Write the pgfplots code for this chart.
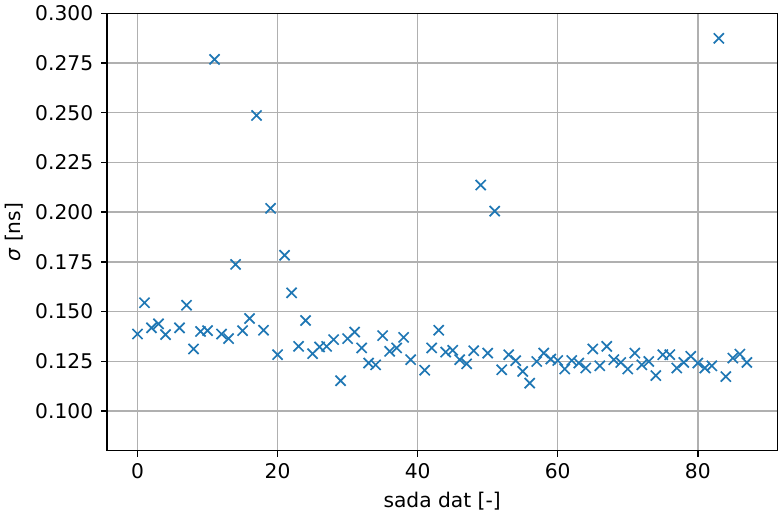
\documentclass[border=0pt]{standalone}
\usepackage{pgfplots}
\pgfplotsset{compat=1.18}
\usepackage{fontspec}
\setmainfont{DejaVu Sans}
\definecolor{mplblue}{HTML}{1F77B4}
\definecolor{gridgray}{HTML}{B0B0B0}
\begin{document}
\begin{tikzpicture}
\begin{axis}[
  scale only axis,
  width=397.6pt, height=259.5pt,
  xmin=-4.35, xmax=91.35,
  ymin=0.08, ymax=0.30,
  xtick={0,20,40,60,80},
  ytick={0.100,0.125,0.150,0.175,0.200,0.225,0.250,0.275,0.300},
  yticklabel style={xshift=-1.2pt, /pgf/number format/fixed, /pgf/number format/fixed zerofill, /pgf/number format/precision=3},
  /pgf/number format/assume math mode=true,
  tick label style={font=\fontsize{12}{14}\selectfont},
  xticklabel style={yshift=-0.5pt},
  label style={font=\fontsize{12}{14}\selectfont},
  xlabel style={yshift=-1pt},
  grid=major,
  major grid style={color=gridgray, line width=0.8pt},
  axis line style={line width=0.8pt},
  tick style={line width=0.8pt, black},
  tick align=outside,
  major tick length=3.5pt,
  xtick pos=bottom, ytick pos=left,
  xlabel={sada dat [-]},
  ylabel={{\itshape σ} [ns]},
  clip=false,
]
\addplot[only marks, mark=x, mark size=4.25pt, color=mplblue, mark options={line width=1pt}] table {
x y
0 0.1387
1 0.1544
2 0.1418
3 0.1438
4 0.1384
6 0.1418
7 0.1532
8 0.1312
9 0.1400
10 0.1404
11 0.2768
12 0.1387
13 0.1364
14 0.1737
15 0.1404
16 0.1465
17 0.2486
18 0.1406
19 0.2019
20 0.1283
21 0.1783
22 0.1594
23 0.1325
24 0.1455
25 0.1288
26 0.1322
27 0.1325
28 0.1359
29 0.1152
30 0.1364
31 0.1397
32 0.1317
33 0.1241
34 0.1232
35 0.1379
36 0.1300
37 0.1317
38 0.1370
39 0.1258
41 0.1205
42 0.1317
43 0.1406
44 0.1296
45 0.1305
46 0.1258
47 0.1237
48 0.1303
49 0.2136
50 0.1291
51 0.2005
52 0.1207
53 0.1283
54 0.1253
55 0.1199
56 0.1140
57 0.1249
58 0.1291
59 0.1261
60 0.1254
61 0.1211
62 0.1254
63 0.1241
64 0.1216
65 0.1312
66 0.1227
67 0.1325
68 0.1258
69 0.1244
70 0.1211
71 0.1291
72 0.1232
73 0.1249
74 0.1178
75 0.1283
76 0.1283
77 0.1216
78 0.1244
79 0.1275
80 0.1241
81 0.1216
82 0.1227
83 0.2874
84 0.1173
85 0.1266
86 0.1286
87 0.1244
};
\end{axis}
\end{tikzpicture}
\end{document}
